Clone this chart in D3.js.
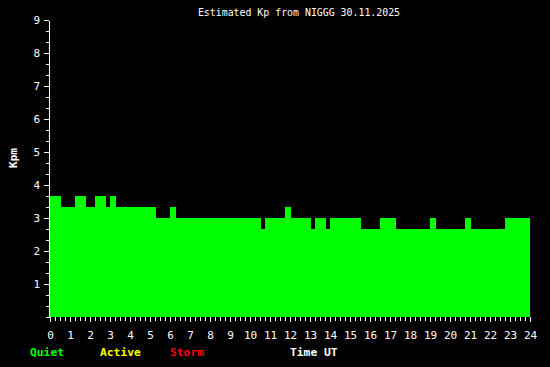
<!DOCTYPE html>
<html>
<head>
<meta charset="utf-8">
<script src="https://cdn.jsdelivr.net/npm/d3@7"></script>
<style>
  body { margin: 0; background: #000; }
  svg { display: block; }
  text { font-family: "DejaVu Sans Mono", "Liberation Mono", monospace; }
</style>
</head>
<body>
<div id="chart"></div>
<script>
var svgWidth = 550;
var svgHeight = 367;

// step start times (hours UT) and Kpm level for each step
var stepStart = [0, 0.55, 1.25, 1.8, 2.25, 2.8, 3.0, 3.3, 5.3, 6.0, 6.3, 10.55, 10.75,
  11.75, 12.05, 13.05, 13.25, 13.8, 14.0, 15.55, 16.5, 17.3, 19.0, 19.3, 20.75, 21.05, 22.75];
var stepKp = [3.667, 3.333, 3.667, 3.333, 3.667, 3.333, 3.667, 3.333, 3.0, 3.333, 3.0, 2.667, 3.0,
  3.333, 3.0, 2.667, 3.0, 2.667, 3.0, 2.667, 3.0, 2.667, 3.0, 2.667, 3.0, 2.667, 3.0];
var dayEnd = 24;

var xTicks = d3.range(0, 25, 1);
var yTicks = d3.range(1, 10, 1);

var legendItems = ["Quiet", "Active", "Storm"];
var legendColors = ["#00ff00", "#ffff00", "#ff0000"];

var svg = d3.select("#chart")
  .append("svg")
  .attr("width", svgWidth)
  .attr("height", svgHeight);

svg.append("rect")
  .attr("width", svgWidth)
  .attr("height", svgHeight)
  .attr("fill", "#000");

var xScale = d3.scaleLinear().domain([0, 24]).range([50, 530]);
var yScale = d3.scaleLinear().domain([0, 9]).range([317, 20]);

// bars
var steps = stepStart.map(function(t, i) {
  return { t0: t, t1: i < stepStart.length - 1 ? stepStart[i + 1] : dayEnd, kp: stepKp[i] };
});

svg.append("g")
  .selectAll("rect")
  .data(steps)
  .enter()
  .append("rect")
  .attr("x", d => xScale(d.t0))
  .attr("width", d => xScale(d.t1) - xScale(d.t0))
  .attr("y", d => yScale(d.kp))
  .attr("height", d => yScale(0) - yScale(d.kp))
  .attr("fill", "#00ff00")
  .attr("shape-rendering", "crispEdges");

// x axis: minor quarter-hour ticks + major hour ticks with labels
var xMinor = svg.append("g")
  .attr("transform", "translate(0,317)")
  .call(d3.axisBottom(xScale).tickValues(d3.range(0, 24.01, 0.25)).tickSize(4).tickFormat(""));
xMinor.select(".domain").remove();

var xAxis = svg.append("g")
  .attr("transform", "translate(0,317)")
  .call(d3.axisBottom(xScale).tickValues(xTicks).tickSize(5).tickPadding(9).tickFormat(d3.format("d")));
xAxis.select(".domain").remove();

// y axis (line sits just left of the bars)
var yMinor = svg.append("g")
  .attr("transform", "translate(" + (xScale(0) - 1) + ",0)")
  .call(d3.axisLeft(yScale).tickValues(d3.range(0, 9.01, 1 / 3)).tickSize(3).tickFormat(""));
yMinor.select(".domain").remove();

var yAxis = svg.append("g")
  .attr("transform", "translate(" + (xScale(0) - 1) + ",0)")
  .call(d3.axisLeft(yScale).tickValues(yTicks).tickSize(5).tickSizeOuter(0).tickPadding(4).tickFormat(d3.format("d")));

svg.selectAll(".tick line, .domain")
  .attr("stroke", "#fff")
  .attr("shape-rendering", "crispEdges");
svg.selectAll(".tick text")
  .attr("fill", "#fff")
  .style("font-size", "11px")
  .style("font-family", "'DejaVu Sans Mono', monospace");

// title
svg.append("text")
  .attr("x", 299)
  .attr("y", 16)
  .attr("text-anchor", "middle")
  .attr("fill", "#fff")
  .style("font-size", "9.9px")
  .text("Estimated Kp from NIGGG 30.11.2025");

// y label
svg.append("text")
  .attr("transform", "translate(17,158) rotate(-90)")
  .attr("text-anchor", "middle")
  .attr("fill", "#fff")
  .style("font-size", "11px")
  .style("font-weight", "bold")
  .text("Kpm");

// legend
var legendX = [30, 100, 170];
svg.append("g")
  .selectAll("text")
  .data(legendItems)
  .enter()
  .append("text")
  .attr("x", (d, i) => legendX[i])
  .attr("y", 356)
  .attr("fill", (d, i) => legendColors[i])
  .style("font-size", "11.3px")
  .style("font-weight", "bold")
  .text(d => d);

svg.append("text")
  .attr("x", 290)
  .attr("y", 356)
  .attr("fill", "#fff")
  .style("font-size", "11.3px")
  .style("font-weight", "bold")
  .text("Time UT");
</script>
</body>
</html>
